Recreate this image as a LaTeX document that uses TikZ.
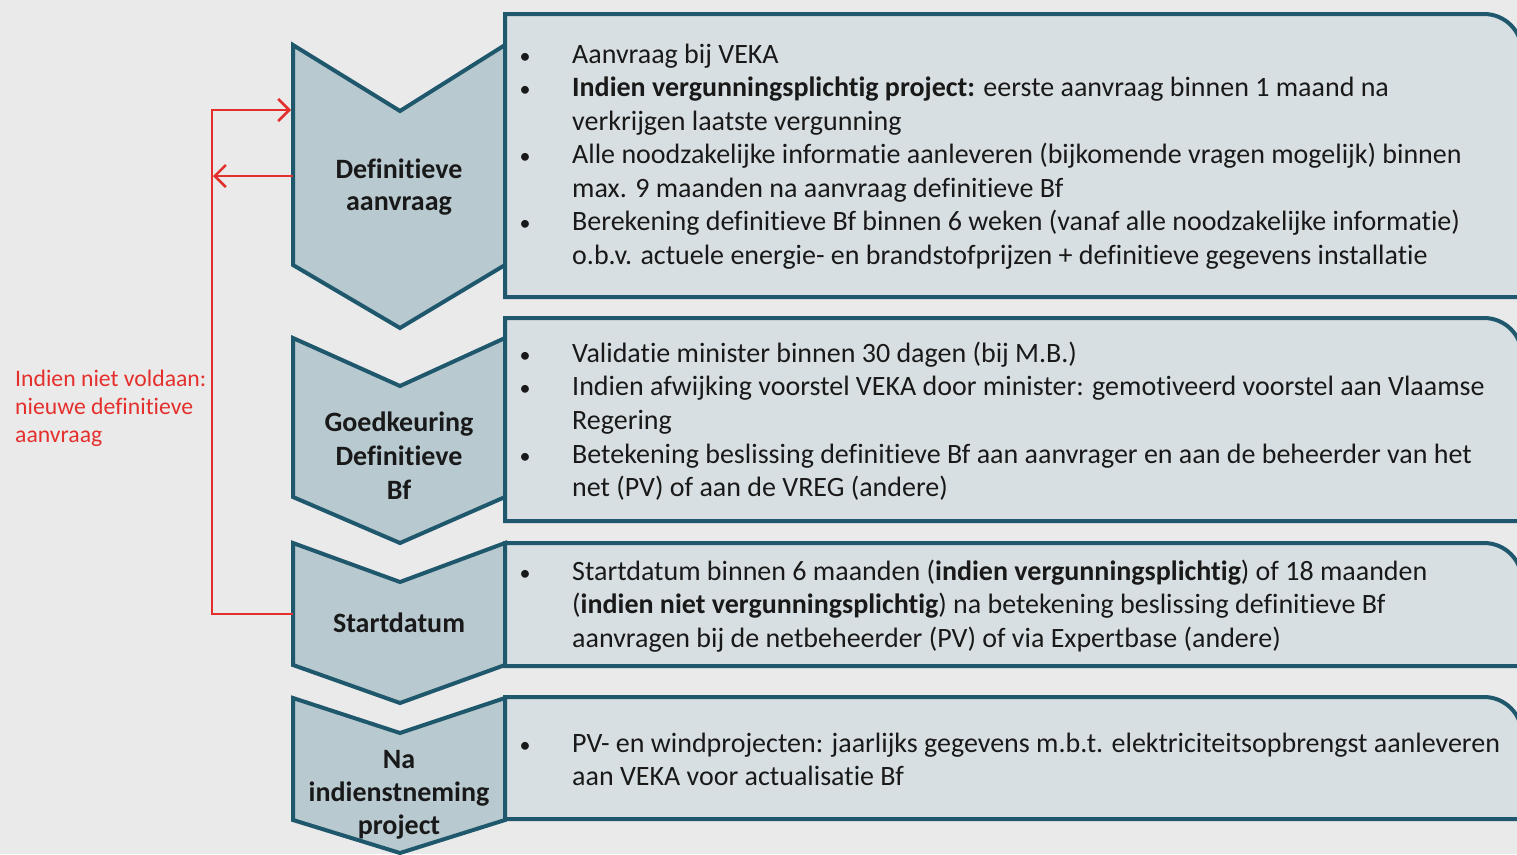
\documentclass[tikz,border=0pt]{standalone}
\usepackage{fontspec}
\setmainfont{Carlito}[Ligatures={NoCommon}]
\usetikzlibrary{arrows.meta}
\definecolor{bg}{RGB}{234,234,234}
\definecolor{chevfill}{RGB}{184,201,208}
\definecolor{boxfill}{RGB}{216,223,226}
\definecolor{edge}{RGB}{31,88,108}
\definecolor{loopred}{RGB}{228,48,44}
\definecolor{ink}{RGB}{25,25,25}
\begin{document}
\begin{tikzpicture}[x=1pt,y=-1pt,
  chev/.style={fill=chevfill,draw=edge,line width=4pt,line join=miter},
  infobox/.style={fill=boxfill,draw=edge,line width=4pt},
  txt/.style={anchor=base west,inner sep=0pt,font=\fontsize{28}{33}\selectfont,text=ink},
  bul/.style={anchor=base,inner sep=0pt,font=\fontsize{22}{33}\selectfont,text=ink},
  lab/.style={anchor=base,inner sep=0pt,font=\fontsize{28}{33}\selectfont\bfseries,text=ink},
  note/.style={anchor=base west,inner sep=0pt,font=\fontsize{23.7}{28}\selectfont,text=loopred},
  loopline/.style={draw=loopred,line width=2.6pt},
  looptip/.style={-{Straight Barb[length=11pt,width=22pt,line width=2.6pt]}},
  ]
\fill[bg] (0,0) rectangle (1517,854);
\useasboundingbox (0,0) rectangle (1517,854);

% chevrons
\draw[chev] (293,45) -- (400,111) -- (505,45) -- (505,265) -- (400,328) -- (293,265) -- cycle;
\draw[chev] (293,338) -- (400,386) -- (505,338) -- (505,497) -- (400,543) -- (293,497) -- cycle;
\draw[chev] (293,543) -- (400,582) -- (505,543) -- (505,665) -- (400,703) -- (293,665) -- cycle;
\draw[chev] (293,698) -- (400,733) -- (505,698) -- (505,820) -- (400,853) -- (293,820) -- cycle;

% info boxes
\draw[infobox] (505,297) -- (505,14) -- (1484,14) .. controls (1505,14) and (1522,31) .. (1522,52) -- (1522,297) -- cycle;
\draw[infobox] (505,521) -- (505,318) -- (1484,318) .. controls (1505,318) and (1522,335) .. (1522,356) -- (1522,521) -- cycle;
\draw[infobox] (505,666) -- (505,543) -- (1484,543) .. controls (1505,543) and (1522,560) .. (1522,581) -- (1522,666) -- cycle;
\draw[infobox] (505,819) -- (505,697) -- (1484,697) .. controls (1505,697) and (1522,714) .. (1522,735) -- (1522,819) -- cycle;

% red feedback loop
\coordinate (c1in) at (291,110);
\coordinate (c1out) at (293,176);
\coordinate (c3out) at (293,614);
\coordinate (jtop) at (212,110);
\coordinate (jmid) at (213,176);
\coordinate (jbot) at (212,614);
\draw[loopline,looptip] (c3out) -- (jbot) -- (jtop) -- (c1in);
\draw[loopline,looptip] (c1out) -- (jmid);

\node[note] (n1) at (15,386) {Indien niet voldaan:};
\node[note] (n2) at (15,414) {nieuwe definitieve};
\node[note] (n3) at (15,442) {aanvraag};

% chevron labels
\node[lab] (l1a) at (399,178) {Definitieve};
\node[lab] (l1b) at (399,210) {aanvraag};
\node[lab] (l2a) at (399,431) {Goedkeuring};
\node[lab] (l2b) at (399,465) {Definitieve};
\node[lab] (l2c) at (399,499) {Bf};
\node[lab] (l3a) at (399,632) {Startdatum};
\node[lab] (l4a) at (399,768) {Na};
\node[lab] (l4b) at (399,801) {indienstneming};
\node[lab] (l4c) at (399,834) {project};

% box 1
\node[bul] (b11) at (525,63) {•};
\node[txt] (t11) at (572,63) {Aanvraag bij VEKA};
\node[bul] (b12) at (525,96.5) {•};
\node[txt] (t12) at (572,96.5) {\textbf{Indien vergunningsplichtig project:} eerste aanvraag binnen 1 maand na};
\node[txt] (t13) at (572,130) {verkrijgen laatste vergunning};
\node[bul] (b13) at (525,163.5) {•};
\node[txt] (t14) at (572,163.5) {Alle noodzakelijke informatie aanleveren (bijkomende vragen mogelijk) binnen};
\node[txt] (t15) at (572,197) {max. 9 maanden na aanvraag definitieve Bf};
\node[bul] (b14) at (525,230.5) {•};
\node[txt] (t16) at (572,230.5) {Berekening definitieve Bf binnen 6 weken (vanaf alle noodzakelijke informatie)};
\node[txt] (t17) at (572,264) {o.b.v. actuele energie- en brandstofprijzen + definitieve gegevens installatie};

% box 2
\node[bul] (b21) at (525,362) {•};
\node[txt] (t21) at (572,362) {Validatie minister binnen 30 dagen (bij M.B.)};
\node[bul] (b22) at (525,395.5) {•};
\node[txt] (t22) at (572,395.5) {Indien afwijking voorstel VEKA door minister: gemotiveerd voorstel aan Vlaamse};
\node[txt] (t23) at (572,429) {Regering};
\node[bul] (b23) at (525,463) {•};
\node[txt] (t24) at (572,463) {Betekening beslissing definitieve Bf aan aanvrager en aan de beheerder van het};
\node[txt] (t25) at (572,496) {net (PV) of aan de VREG (andere)};

% box 3
\node[bul] (b31) at (525,580) {•};
\node[txt] (t31) at (572,580) {Startdatum binnen 6 maanden (\textbf{indien vergunningsplichtig}) of 18 maanden};
\node[txt] (t32) at (572,613) {(\textbf{indien niet vergunningsplichtig}) na betekening beslissing definitieve Bf};
\node[txt] (t33) at (572,647) {aanvragen bij de netbeheerder (PV) of via Expertbase (andere)};

% box 4
\node[bul] (b41) at (525,752) {•};
\node[txt] (t41) at (572,752) {PV- en windprojecten: jaarlijks gegevens m.b.t. elektriciteitsopbrengst aanleveren};
\node[txt] (t42) at (572,785) {aan VEKA voor actualisatie Bf};
\end{tikzpicture}
\end{document}
